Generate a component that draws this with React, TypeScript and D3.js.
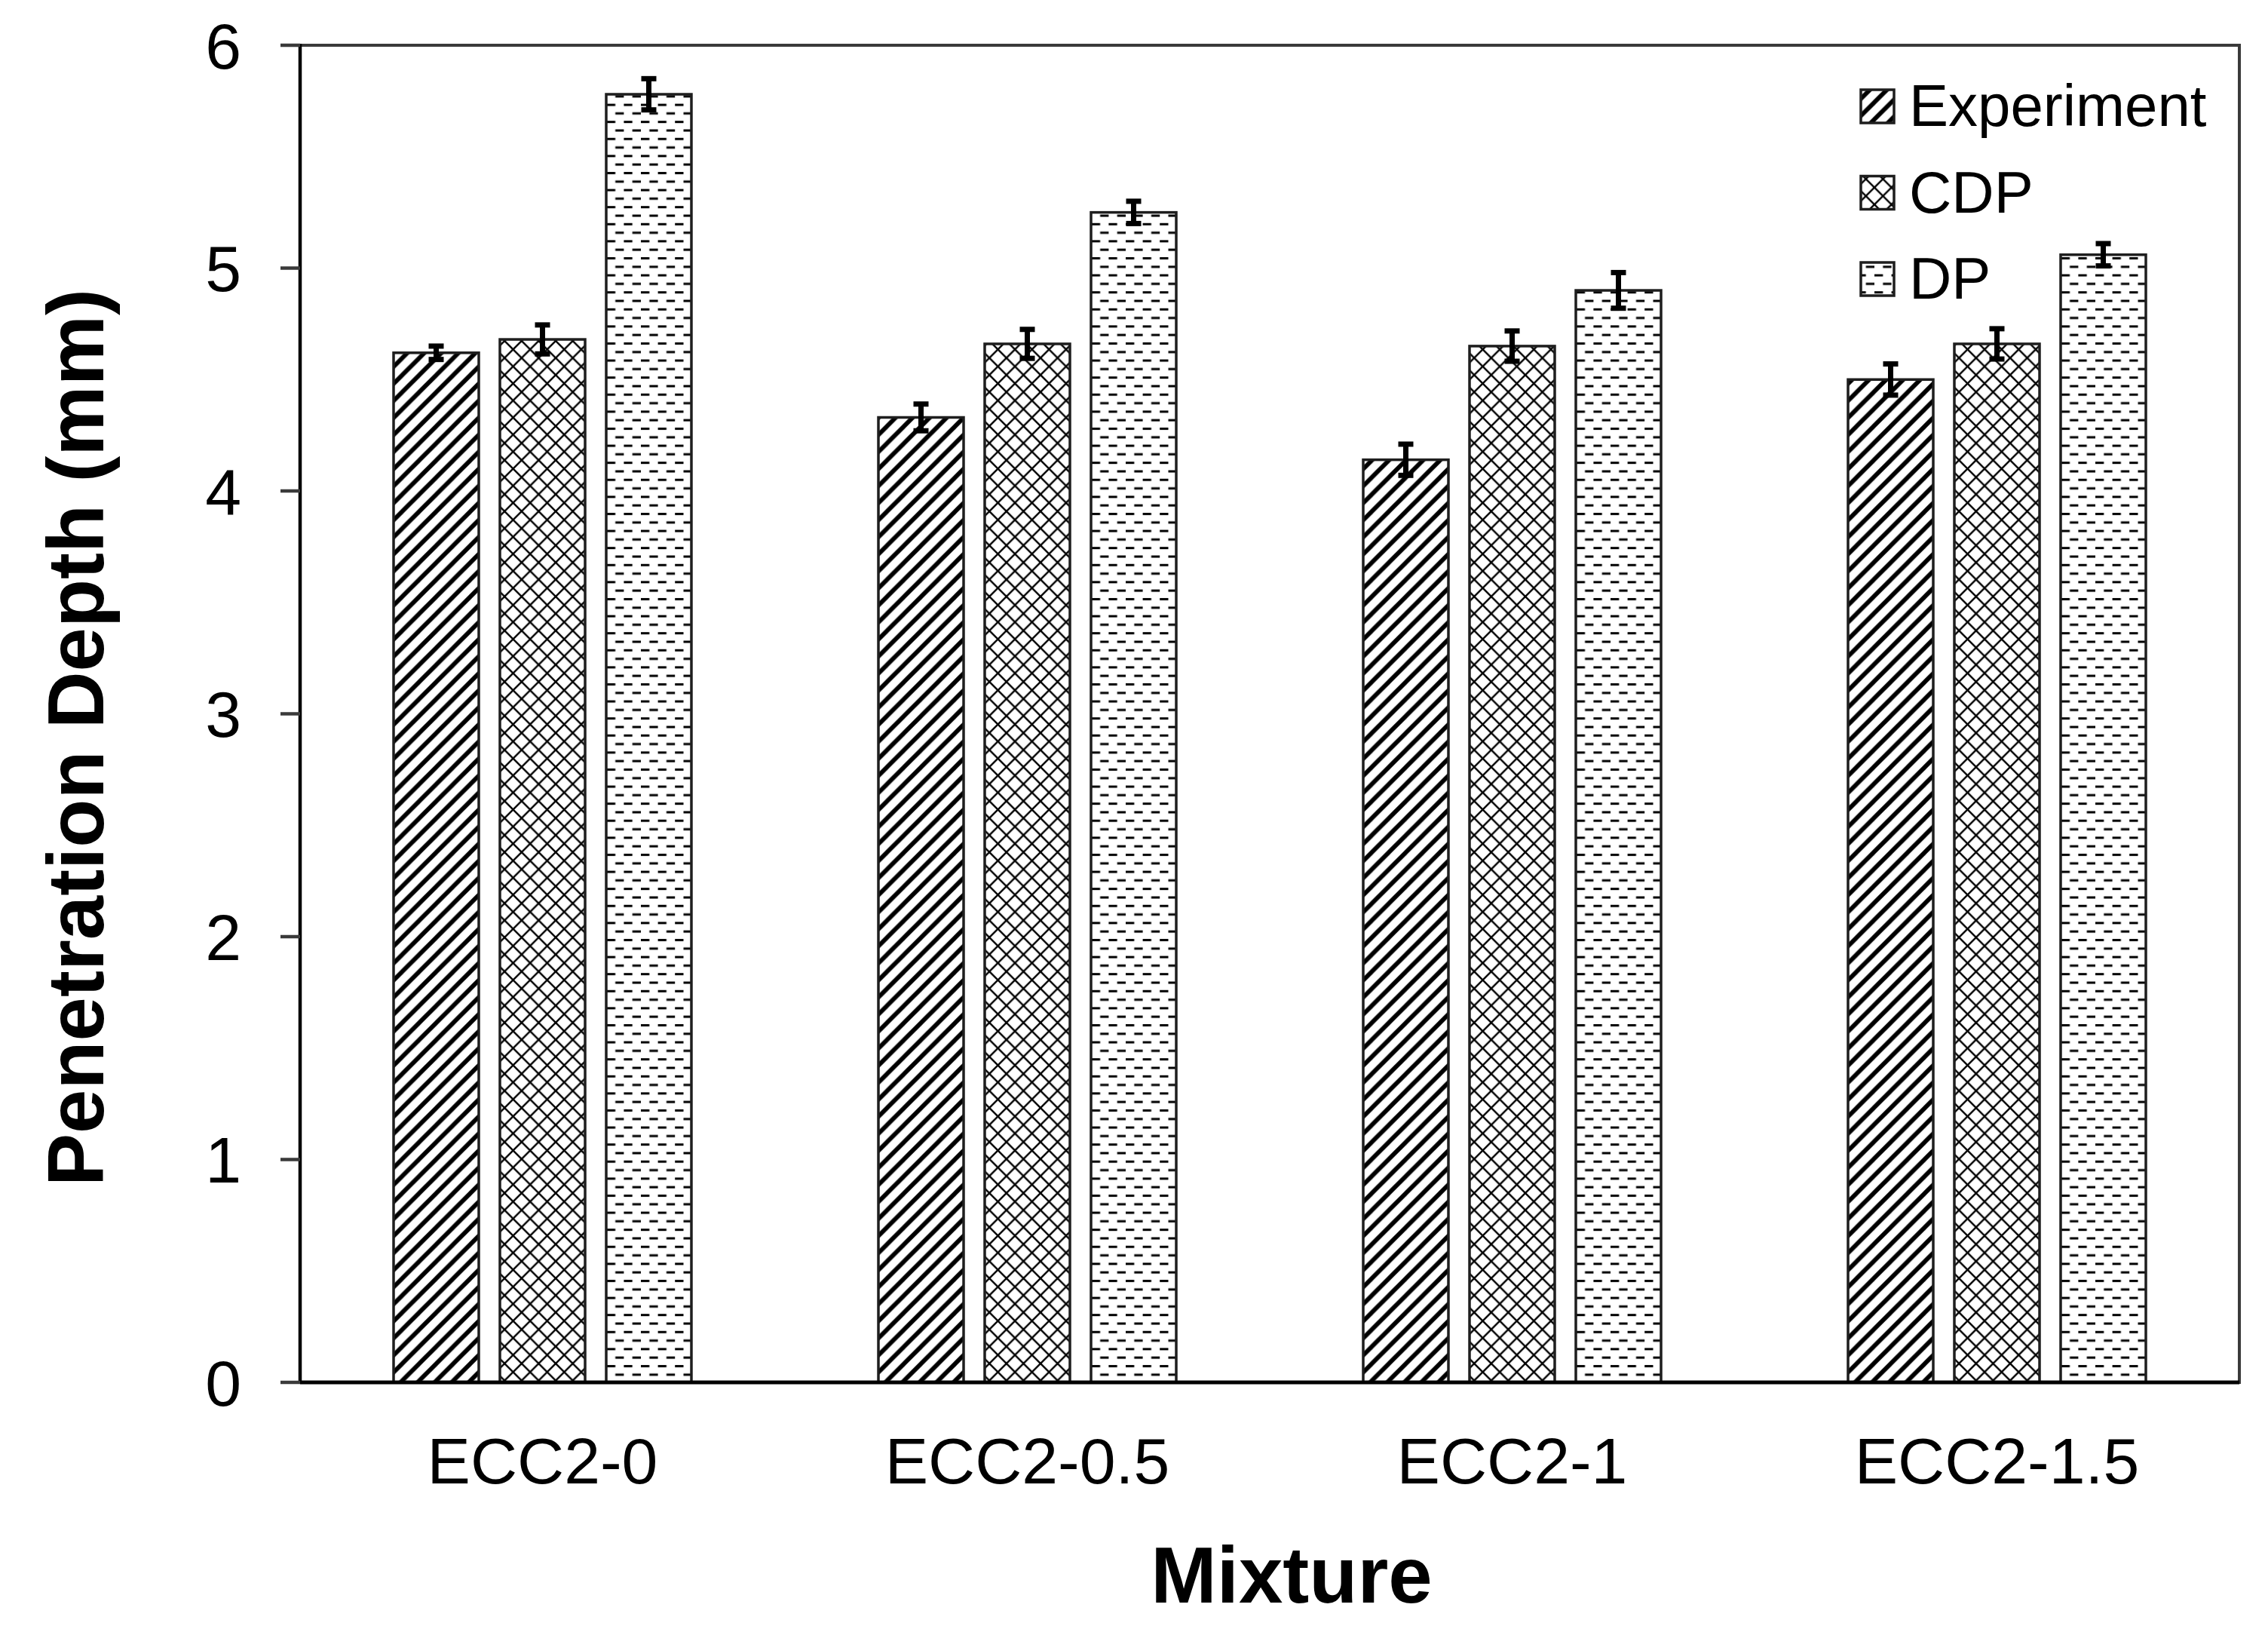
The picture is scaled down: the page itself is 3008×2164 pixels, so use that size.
import React from "react";
import * as d3 from "d3";

const categories = ["ECC2-0", "ECC2-0.5", "ECC2-1", "ECC2-1.5"];
const seriesNames = ["Experiment", "CDP", "DP"];
const experimentValues = [4.62, 4.33, 4.14, 4.50];
const cdpValues = [4.68, 4.66, 4.65, 4.66];
const dpValues = [5.78, 5.25, 4.90, 5.06];
const experimentErrors = [0.03, 0.06, 0.07, 0.07];
const cdpErrors = [0.065, 0.065, 0.068, 0.068];
const dpErrors = [0.07, 0.05, 0.08, 0.05];
const yTicks = [0, 1, 2, 3, 4, 5, 6];

const W = 3008;
const H = 2164;
const left = 398;
const right = 2970;
const top = 60;
const bottom = 1833;
const FONT = "'Liberation Sans', Arial, Helvetica, sans-serif";

const seriesValues = [experimentValues, cdpValues, dpValues];
const seriesErrors = [experimentErrors, cdpErrors, dpErrors];
const patternIds = ["pat-exp", "pat-cdp", "pat-dp"];

export default function App() {
  const x0 = d3.scaleBand<string>().domain(categories).range([left, right]).padding(0);
  const band = x0.bandwidth();
  const groupW = 395;
  const x1 = d3
    .scaleBand<string>()
    .domain(seriesNames)
    .range([(band - groupW) / 2, (band + groupW) / 2])
    .paddingInner(28 / 141)
    .paddingOuter(0);
  const y = d3.scaleLinear().domain([0, 6]).range([bottom, top]);
  const bw = x1.bandwidth();

  const T = 22.6;
  return (
    <svg
      width={W}
      height={H}
      viewBox={`0 0 ${W} ${H}`}
      style={{ position: "absolute", left: 0, top: 0, background: "#fff" }}
    >
      <defs>
        <pattern id="pat-exp" patternUnits="userSpaceOnUse" width={T} height={T}>
          <rect width={T} height={T} fill="#fff" />
          <g stroke="#000" strokeWidth={5.8}>
            <line x1={-T / 2} y1={T / 2} x2={T / 2} y2={-T / 2} />
            <line x1={0} y1={T} x2={T} y2={0} />
            <line x1={T / 2} y1={T * 1.5} x2={T * 1.5} y2={T / 2} />
          </g>
        </pattern>
        <pattern id="pat-cdp" patternUnits="userSpaceOnUse" width={T} height={T}>
          <rect width={T} height={T} fill="#fff" />
          <g stroke="#000" strokeWidth={2.4}>
            <line x1={0} y1={0} x2={T} y2={T} />
            <line x1={0} y1={T} x2={T} y2={0} />
          </g>
        </pattern>
        <pattern id="pat-dp" patternUnits="userSpaceOnUse" width={T} height={T}>
          <rect width={T} height={T} fill="#fff" />
          <rect x={0} y={2} width={T / 2} height={3} fill="#000" />
          <rect x={T / 2} y={2 + T / 2} width={T / 2} height={3} fill="#000" />
        </pattern>
      </defs>

      <rect x={0} y={0} width={W} height={H} fill="#fff" />

      {/* plot area border */}
      <rect
        x={left}
        y={top}
        width={right - left}
        height={bottom - top}
        fill="none"
        stroke="#3a3a3a"
        strokeWidth={4}
      />

      {/* bars */}
      {categories.map((c, ci) => (
        <g key={c} transform={`translate(${x0(c)},0)`}>
          {seriesNames.map((s, si) => {
            const v = seriesValues[si][ci];
            const bx = x1(s) as number;
            return (
              <rect
                key={s}
                x={bx}
                y={y(v)}
                width={bw}
                height={y(0) - y(v)}
                fill={`url(#${patternIds[si]})`}
                stroke="#1e1e1e"
                strokeWidth={3.5}
              />
            );
          })}
        </g>
      ))}

      {/* error bars */}
      {categories.map((c, ci) => (
        <g key={c + "-err"} transform={`translate(${x0(c)},0)`}>
          {seriesNames.map((s, si) => {
            const v = seriesValues[si][ci];
            const e = seriesErrors[si][ci];
            const cx = (x1(s) as number) + bw / 2;
            return (
              <g key={s} stroke="#000" strokeWidth={7}>
                <line x1={cx} x2={cx} y1={y(v + e)} y2={y(v - e)} />
                <line x1={cx - 10} x2={cx + 10} y1={y(v + e)} y2={y(v + e)} />
                <line x1={cx - 10} x2={cx + 10} y1={y(v - e)} y2={y(v - e)} />
              </g>
            );
          })}
        </g>
      ))}

      {/* y axis */}
      <line x1={left} x2={left} y1={top - 2} y2={bottom + 2} stroke="#000" strokeWidth={4.5} />
      {yTicks.map((t) => (
        <g key={t}>
          <line x1={left - 26} x2={left} y1={y(t)} y2={y(t)} stroke="#3a3a3a" strokeWidth={4.5} />
          <text
            x={320}
            y={y(t)}
            dy="0.355em"
            textAnchor="end"
            fontFamily={FONT}
            fontSize={86}
            fill="#000"
          >
            {t}
          </text>
        </g>
      ))}

      {/* x axis */}
      <line x1={left} x2={right} y1={bottom} y2={bottom} stroke="#000" strokeWidth={5} />
      {categories.map((c) => (
        <text
          key={c}
          x={(x0(c) as number) + band / 2}
          y={1967}
          textAnchor="middle"
          fontFamily={FONT}
          fontSize={86}
          fill="#000"
        >
          {c}
        </text>
      ))}

      {/* axis titles */}
      <text
        transform={`translate(137,978) rotate(-90)`}
        textAnchor="middle"
        fontFamily={FONT}
        fontWeight="bold"
        fontSize={105}
        fill="#000"
      >
        Penetration Depth (mm)
      </text>
      <text
        x={1713}
        y={2125}
        textAnchor="middle"
        fontFamily={FONT}
        fontWeight="bold"
        fontSize={105}
        fill="#000"
      >
        Mixture
      </text>

      {/* legend */}
      {seriesNames.map((s, si) => {
        const cy = 141 + si * 114.5;
        return (
          <g key={s}>
            <rect
              x={2468}
              y={cy - 22}
              width={44}
              height={44}
              fill={`url(#${patternIds[si]})`}
              stroke="#1e1e1e"
              strokeWidth={3.5}
            />
            <text x={2532} y={cy + 26} fontFamily={FONT} fontSize={78} fill="#000">
              {s}
            </text>
          </g>
        );
      })}
    </svg>
  );
}
